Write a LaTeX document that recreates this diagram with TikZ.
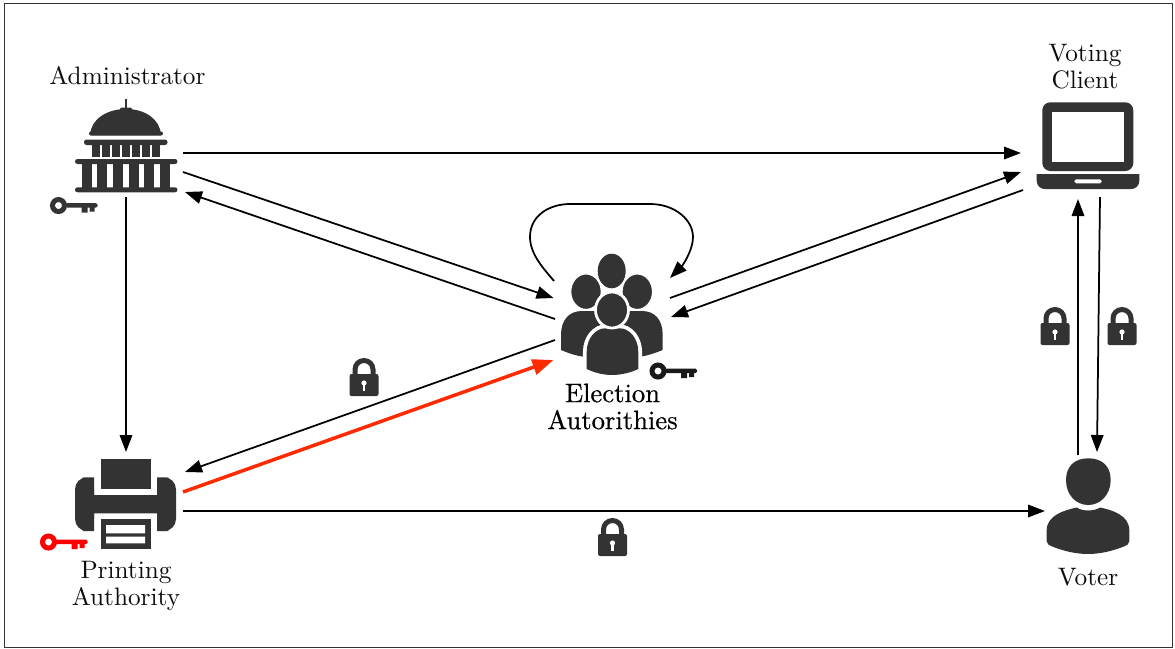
\documentclass[tikz,border=0pt]{standalone}
\usepackage{fontspec}
\usetikzlibrary{arrows.meta,calc}
\newfontface\heavyface[FakeBold=0.6]{Latin Modern Roman}
\definecolor{icon}{HTML}{333333}
\definecolor{redarrow}{HTML}{FF2A00}
\tikzset{
  iconbox/.style={inner sep=0pt,outer sep=0pt,minimum width=#1},
  label text/.style={align=center,inner sep=0pt,font=\fontsize{10.1}{10.8}\selectfont,text=black!95},
  flow/.style={line width=0.7pt,-{Triangle[length=6.8pt,width=5pt]}},
  redflow/.style={draw=redarrow,line width=1.4pt,-{Triangle[length=8.4pt,width=6.2pt]}},
  pics/keyicon/.style={code={
    \draw[#1,line width=2pt] (0,0) circle (6);
    \fill[#1,rounded corners=0.6pt] (7,-2.5) rectangle (39,2);
    \fill[#1] (23,0) rectangle (29,7) (31,0) rectangle (36,6);
  }},
  pics/lockicon/.style={code={
    \draw[icon,line width=2pt] (-9,20) -- (-9,11.5) arc[start angle=180,end angle=360,x radius=9,y radius=9] -- (9,20);
    \fill[icon,rounded corners=0.8pt] (-14.5,16) rectangle (14.5,38);
    \fill[white] (0,25) circle (2.6);
    \fill[white] (-1.2,25) rectangle (1.2,33);
  }}
}
\begin{document}
\begin{tikzpicture}[x=0.4pt,y=-0.4pt]
\useasboundingbox (0,0) rectangle (1175,648);
\draw[icon,line width=0.4pt] (4,3) rectangle (1172,647);

% anchoring nodes around the icons
\node[iconbox=45.6pt,minimum height=35.2pt] (admin) at (126,153) {};
\node[iconbox=46pt,minimum height=32.8pt] (ea) at (612.5,319) {};
\node[iconbox=45.6pt,minimum height=47.2pt] (printer) at (126,511) {};
\node[iconbox=54.4pt,minimum height=36pt] (client) at (1089,153) {};
\node[iconbox=34.4pt,minimum height=45.6pt] (voter) at (1088,511) {};

% labels
\node[label text] (adminlabel) at (127.5,76) {Administrator};
\node[label text] (clientlabel) at (1085,66.5) {Voting\\Client};
\node[label text] (printerlabel) at (126,586) {Printing\\Authority};
\node[label text] (voterlabel) at (1088,577) {Voter};
\node[label text,text=black,font=\fontsize{10.65}{10.8}\selectfont\heavyface] (ealabel) at (612.5,406.5) {Election\\Autorithies};

% administrator icon
\fill[icon] (125.3,99) rectangle (126.7,109);
\fill[icon,rounded corners=0.5pt] (120,107.5) rectangle (132,111);
\fill[icon] (90,135) .. controls (91,119) and (107,109) .. (126,109) .. controls (145,109) and (160,119) .. (161,135) -- cycle;
\fill[icon,rounded corners=0.8pt] (89,131.5) rectangle (163,135.5);
\fill[icon,rounded corners=1pt] (84,139.5) rectangle (167.5,145);
\foreach \i in {0,...,6} \fill[icon] ({92.3+10*\i},145) rectangle ({99.6+10*\i},157);
\fill[icon,rounded corners=1pt] (75,159) rectangle (177.5,164);
\foreach \i in {0,...,5} \fill[icon] ({81.7+15.6*\i},164) rectangle ({91.7+15.6*\i},187.5);
\fill[icon,rounded corners=1pt] (75,187.3) rectangle (177.5,192.3);
\pic at (58.5,205.5) {keyicon=icon};

% election authorities icon
\fill[icon] (561,350) .. controls (568,353) and (575,355.5) .. (583.3,356.7) -- (612,356) -- (612,311) -- (582,311) .. controls (569,311) and (561,320) .. (561,335) -- cycle;
\fill[icon] (662.7,350) .. controls (655,353) and (648,355.5) .. (640.7,356.7) -- (612,356) -- (612,311) -- (642,311) .. controls (655,311) and (662.7,320) .. (662.7,335) -- cycle;
\fill[icon] (611.7,271) ellipse [x radius=14,y radius=17.3];
\draw[white,line width=0.5pt,fill=icon] (586,291.7) ellipse [x radius=15.3,y radius=17.8];
\draw[white,line width=0.5pt,fill=icon] (637.3,291.7) ellipse [x radius=15.3,y radius=17.8];
\draw[white,line width=3pt] (586.7,369) -- (586.7,352) .. controls (586.7,338) and (596,328.3) .. (605,328.3) -- (620,328.3) .. controls (629,328.3) and (638.3,338) .. (638.3,352) -- (638.3,369);
\fill[icon] (586.7,369) -- (586.7,352) .. controls (586.7,338) and (596,328.3) .. (605,328.3) -- (620,328.3) .. controls (629,328.3) and (638.3,338) .. (638.3,352) -- (638.3,369) .. controls (630,373) and (620,375) .. (612,375) .. controls (604,375) and (595,373) .. cycle;
\draw[white,line width=1.1pt,fill=icon] (612,310) ellipse [x radius=16.5,y radius=18];
\pic at (658,371) {keyicon={black!90}};

% printer icon
\fill[icon] (100.7,459.3) rectangle (150.7,489.3);
\fill[icon,rounded corners=4.8pt] (75,477.3) -- (94,477.3) -- (94,531) -- (75,531) -- cycle;
\fill[icon,rounded corners=4.8pt] (176,477.3) -- (157,477.3) -- (157,531) -- (176,531) -- cycle;
\fill[icon] (86,477.3) rectangle (94,531) (157,477.3) rectangle (165,531) (90,495) rectangle (160,513.3);
\fill[icon] (100.7,519) rectangle (150.7,549);
\fill[white] (106,525) rectangle (145,533.3) (106,536.7) rectangle (145,543.3);
\pic at (48.5,542) {keyicon=red};

% laptop icon
\fill[icon,rounded corners=3.2pt] (1042.3,102.3) rectangle (1133.3,171);
\fill[white] (1051.7,111.7) rectangle (1124.3,161.7);
\fill[icon] (1036.7,174) -- (1139.3,174) [rounded corners=3.2pt] -- (1139.3,189) -- (1036.7,189) [sharp corners] -- cycle;
\fill[white,rounded corners=0.7pt] (1074.3,179.3) rectangle (1101.7,183.3);

% voter icon
\fill[icon] (1088.3,458.3) .. controls (1102,458.3) and (1110.7,466) .. (1110.7,480) .. controls (1110.7,495) and (1100,505) .. (1088.3,505) .. controls (1076,505) and (1066,495) .. (1066,480) .. controls (1066,466) and (1075,458.3) .. cycle;
\fill[icon] (1046.7,541) -- (1046.7,530) .. controls (1047,515) and (1065,510) .. (1077,507.5) .. controls (1082,511.5) and (1094,511.5) .. (1100,507.5) .. controls (1112,510) and (1129,515) .. (1129.3,530) -- (1129.3,541) .. controls (1129.3,544) and (1127,545) .. (1125,546) .. controls (1113,551) and (1100,554) .. (1088,554) .. controls (1076,554) and (1063,551) .. (1051,546) .. controls (1049,545) and (1046.7,544) .. cycle;

% locks
\pic at (364,358) {lockicon};
\pic at (612.5,518) {lockicon};
\pic at (1055,307) {lockicon};
\pic at (1122,307) {lockicon};

% connectors
\draw[flow] (admin.east) -- (client.west);
\draw[flow] ($(admin.east)+(0,19)$) -- ($(ea.west)+(-1.5,-21)$);
\draw[flow] (ea.west) -- ($(admin.east)+(2,39)$);
\draw[flow] (admin.south) -- (printer.north);
\draw[flow] ($(ea.west)+(0,21)$) -- ($(printer.east)+(2,-39)$);
\draw[redflow] ($(printer.east)+(0,-19)$) -- ($(ea.west)+(-1.5,41)$);
\draw[flow] (printer.east) -- (voter.west);
\draw[flow] ($(ea.east)+(0,-21)$) -- ($(client.west)+(0,19)$);
\draw[flow] ($(client.west)+(2,37)$) -- ($(ea.east)+(1,-2)$);
\draw[flow] ($(voter.north)+(-10,1)$) -- ($(client.south)+(-11,1)$);
\draw[flow] ($(client.south)+(11,-1)$) -- ($(voter.north)+(9,-2)$);
\draw[flow] ($(ea.north west)+(-1,3)$) .. controls (545,270) and (530,255) .. (530,237) .. controls (530,215) and (550,204) .. (570,204) -- (650,204) .. controls (675,204) and (693,220) .. (693,237) .. controls (693,250) and (683,265) .. (ea.north east);
\end{tikzpicture}
\end{document}
